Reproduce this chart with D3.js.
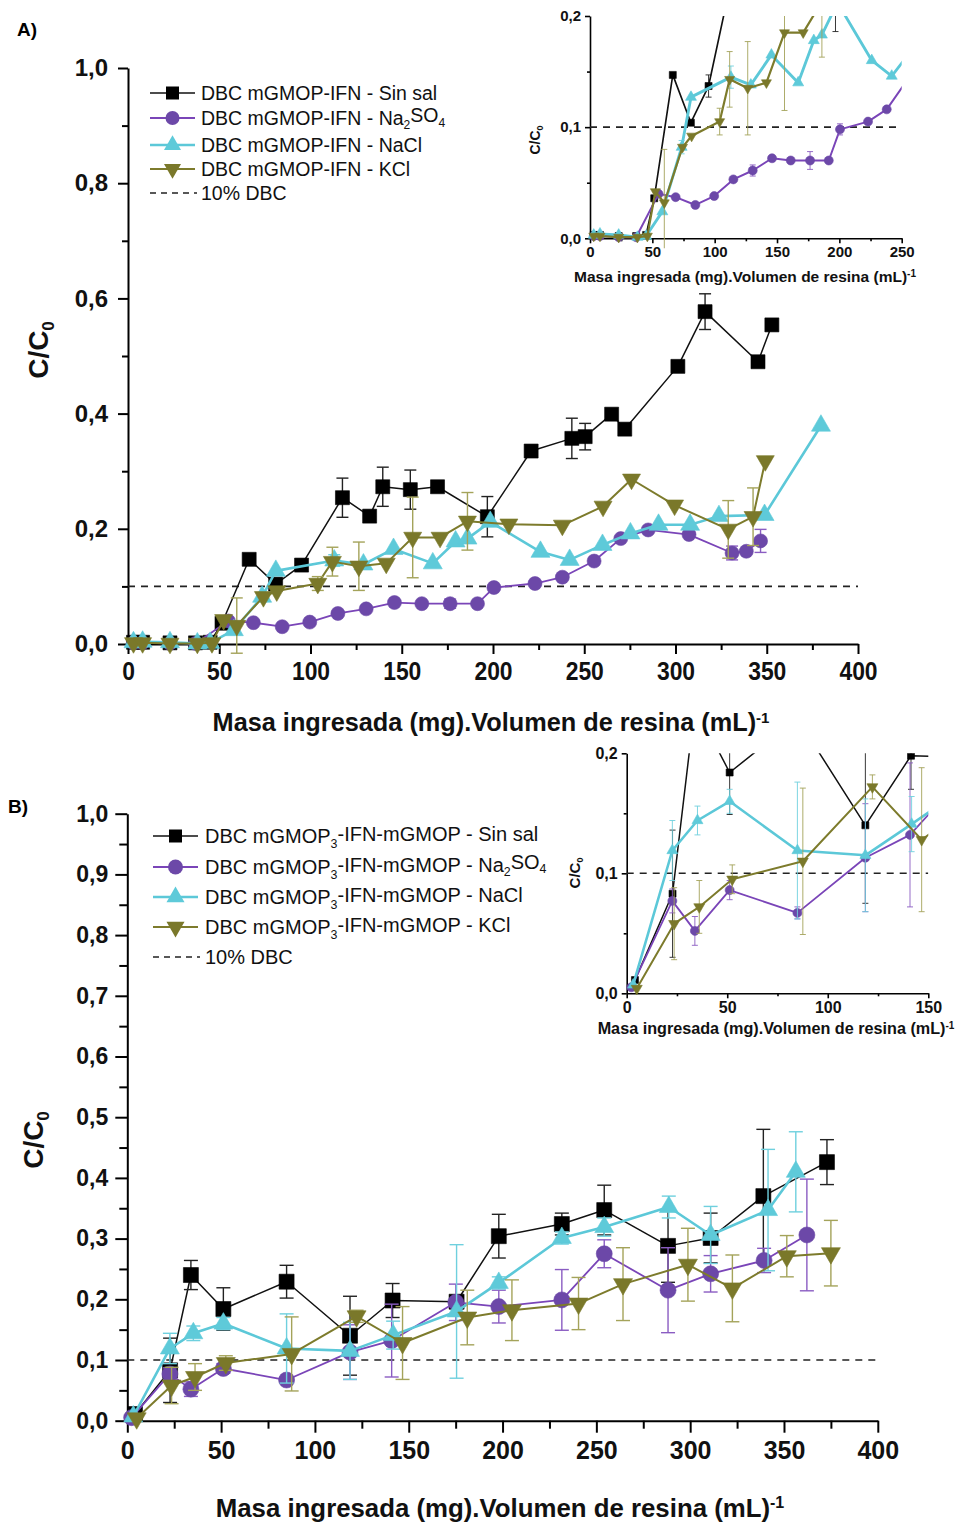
<!DOCTYPE html>
<html>
<head>
<meta charset="utf-8">
<script src="https://cdn.jsdelivr.net/npm/d3@7"></script>
<style>
  body { margin: 0; background: #fff; }
  svg { display: block; }
  text { font-family: "Liberation Sans", Arial, Helvetica, sans-serif; }
</style>
</head>
<body>
<svg id="fig" width="958" height="1524"></svg>
<script>
// ---------- Panel A: mGMOP-IFN  [mass loaded per resin volume, C/C0, error] ----------
const sinSalA = [[3,0.003,0],[8,0.003,0],[23,0.002,0],[37,0.002,0],[45,0.003,0],[51.5,0.036,0],[66.4,0.147,0],[80.9,0.104,0],[95.1,0.137,0.01],[117.5,0.254,0.034],[132.4,0.222,0],[139.6,0.273,0.034],[154.7,0.268,0.034],[169.6,0.273,0],[196.9,0.221,0.035],[220.9,0.335,0],[243.2,0.357,0.035],[250.5,0.36,0.023],[265,0.399,0],[272.2,0.373,0],[301.3,0.482,0],[316.2,0.577,0.031],[345.2,0.49,0],[352.8,0.554,0]];
const na2so4A = [[3,0.002,0],[8,0.002,0],[23,0.001,0],[37,0.001,0],[55,0.04,0],[68.7,0.037,0],[84.5,0.03,0],[99.6,0.038,0],[115,0.053,0],[130.5,0.061,0.005],[146,0.072,0],[161,0.07,0],[176.5,0.07,0.008],[191.5,0.07,0],[200.5,0.098,0.005],[223,0.105,0],[238,0.116,0],[255.4,0.144,0],[270,0.183,0],[285,0.198,0],[307.4,0.19,0],[331,0.158,0.012],[338.8,0.161,0],[346.6,0.179,0.02]];
const naclA = [[3,0.003,0],[8,0.004,0],[23,0.003,0],[38,0.001,0],[45,0.002,0],[58,0.024,0],[73.5,0.082,0.006],[81,0.127,0],[113,0.145,0.01],[129,0.138,0],[145.5,0.165,0],[167,0.14,0],[179.5,0.178,0],[186,0.183,0],[198.5,0.212,0],[226,0.16,0],[242,0.146,0],[260,0.172,0],[275.3,0.192,0],[290.7,0.207,0],[308,0.207,0],[323.8,0.222,0],[348.8,0.224,0],[379.7,0.379,0]];
const kclA = [[3,0.002,0],[8,0.002,0],[23,0.001,0],[38,0.001,0],[46,0.002,0],[52.4,0.042,0],[59.6,0.032,0.048],[74.2,0.082,0],[81.5,0.092,0],[104,0.105,0.012],[112,0.143,0.025],[126.5,0.135,0.042],[141.5,0.14,0],[156,0.185,0.07],[171,0.185,0],[186,0.213,0.05],[208.7,0.208,0],[238,0.206,0],[260.3,0.239,0],[275.9,0.286,0],[299.5,0.241,0],[328.9,0.199,0.05],[342.5,0.221,0.05],[349.2,0.318,0]];

// ---------- Panel B: mGMOP3-IFN-mGMOP ----------
const sinSalB = [[4.1,0.011,0],[22.8,0.083,0.053],[33.9,0.24,0.024],[51.2,0.184,0.035],[84.9,0.229,0.027],[118.7,0.14,0.065],[141.4,0.198,0.028],[175.5,0.196,0],[198,0.304,0.036],[231.6,0.324,0.018],[254.2,0.347,0.041],[288.2,0.288,0.06],[310.9,0.301,0.041],[339,0.37,0.11],[372.9,0.426,0.037]];
const na2so4B = [[2.3,0.005,0],[22.7,0.077,0.01],[33.9,0.052,0.012],[51.2,0.086,0.008],[84.9,0.067,0.005],[118.7,0.113,0.045],[140.9,0.132,0.06],[175.1,0.195,0.03],[198,0.188,0.027],[231.6,0.199,0.05],[254.2,0.275,0.023],[288.2,0.215,0.07],[310.9,0.242,0.03],[339.4,0.264,0.02],[362.2,0.306,0.092]];
const naclB = [[3.2,0.007,0],[22.7,0.119,0.025],[35.2,0.144,0.012],[51.2,0.16,0.01],[84.9,0.119,0.057],[118.7,0.115,0.047],[141.7,0.141,0.023],[175.5,0.18,0.11],[198,0.227,0.01],[231.6,0.301,0.01],[254.2,0.319,0.015],[288.6,0.352,0.018],[310.9,0.306,0.047],[341.5,0.347,0.1],[356.3,0.41,0.066]];
const kclB = [[5,0.004,0],[23.6,0.058,0.03],[36.1,0.072,0.022],[52.5,0.095,0.012],[87.6,0.11,0.061],[122.2,0.172,0.01],[146.7,0.128,0.06],[181.2,0.17,0.045],[205,0.182,0.05],[240.5,0.193,0.043],[264.2,0.225,0.06],[298.8,0.257,0.06],[322.5,0.218,0.055],[351.5,0.271,0.034],[375,0.276,0.054]];

// ---------- Axis ticks ----------
const xMajorMain = [0,50,100,150,200,250,300,350,400];
const xMinorMain = [25,75,125,175,225,275,325,375];
const yMajorA = [0,0.2,0.4,0.6,0.8,1.0];
const yMinorA = [0.1,0.3,0.5,0.7,0.9];
const yMajorB = [0,0.1,0.2,0.3,0.4,0.5,0.6,0.7,0.8,0.9,1.0];
const yMinorB = [0.05,0.15,0.25,0.35,0.45,0.55,0.65,0.75,0.85,0.95];
const xMajorInsetA = [0,50,100,150,200,250];
const xMinorInsetA = [25,75,125,175,225];
const xMajorInsetB = [0,50,100,150];
const xMinorInsetB = [25,75,125];
const yMajorInset = [0,0.1,0.2];
const yMinorInset = [0.05,0.15];
const dbcLevel = 0.1;

// ---------- Legend labels (text pieces; "sub" = subscript) ----------
const legendA = [
  [["DBC mGMOP-IFN - Sin sal"]],
  [["DBC mGMOP-IFN - Na"],["2","sub"],["SO"],["4","sub"]],
  [["DBC mGMOP-IFN - NaCl"]],
  [["DBC mGMOP-IFN - KCl"]],
  [["10% DBC"]]
];
const legendB = [
  [["DBC mGMOP"],["3","sub"],["-IFN-mGMOP - Sin sal"]],
  [["DBC mGMOP"],["3","sub"],["-IFN-mGMOP - Na"],["2","sub"],["SO"],["4","sub"]],
  [["DBC mGMOP"],["3","sub"],["-IFN-mGMOP - NaCl"]],
  [["DBC mGMOP"],["3","sub"],["-IFN-mGMOP - KCl"]],
  [["10% DBC"]]
];

const styles = [
  { shape: "square",  line: "#111111", fill: "#000000", err: "#222222", lw: 1.5 },
  { shape: "circle",  line: "#7a45b8", fill: "#6c48a8", err: "#8a5cc2", lw: 1.8 },
  { shape: "up",      line: "#5cc8d8", fill: "#5ecad9", err: "#6fd0de", lw: 2.6 },
  { shape: "down",    line: "#7d7b2c", fill: "#7a782a", err: "#a4a35a", lw: 2.0 }
];

const svg = d3.select("#fig");
const fmt = v => d3.format(".1f")(v).replace(".", ",");

function symbolPath(shape, s) {
  // s = nominal marker width in px
  if (shape === "square") return d3.symbol(d3.symbolSquare, s * s)();
  if (shape === "circle") return d3.symbol(d3.symbolCircle, Math.PI * (s / 2) * (s / 2))();
  const area = Math.sqrt(3) / 4 * s * s;
  return d3.symbol(d3.symbolTriangle, area)();
}

function addRich(textSel, parts, subSize) {
  let shifted = false;
  parts.forEach(p => {
    const t = textSel.append("tspan").text(p[0]);
    if (p[1] === "sub") {
      t.attr("font-size", subSize).attr("dy", shifted ? 0 : "0.35em");
      shifted = true;
    } else if (p[1] === "sup") {
      t.attr("font-size", subSize).attr("dy", "-0.55em");
      shifted = false;
    } else if (shifted) {
      t.attr("dy", "-0.35em");
      shifted = false;
    }
  });
}

function drawAxes(g, x, y, cfg) {
  const ax = g.append("g").attr("transform", `translate(0,${y.range()[0]})`)
    .call(d3.axisBottom(x).tickValues(cfg.xMajor).tickSize(cfg.tMaj).tickSizeOuter(0).tickPadding(cfg.xPad).tickFormat(d3.format("d")));
  g.append("g").attr("transform", `translate(0,${y.range()[0]})`)
    .call(d3.axisBottom(x).tickValues(cfg.xMinor).tickSize(cfg.tMin).tickSizeOuter(0).tickFormat(""))
    .select(".domain").remove();
  const ay = g.append("g").attr("transform", `translate(${x.range()[0]},0)`)
    .call(d3.axisLeft(y).tickValues(cfg.yMajor).tickSize(cfg.tMaj).tickSizeOuter(0).tickPadding(cfg.yPad).tickFormat(fmt));
  g.append("g").attr("transform", `translate(${x.range()[0]},0)`)
    .call(d3.axisLeft(y).tickValues(cfg.yMinor).tickSize(cfg.tMin).tickSizeOuter(0).tickFormat(""))
    .select(".domain").remove();
  g.selectAll(".domain").attr("stroke", "#000").attr("stroke-width", cfg.axW);
  g.selectAll(".tick line").attr("stroke", "#000").attr("stroke-width", cfg.axW);
  [[ax, cfg.xFont], [ay, cfg.yFont]].forEach(([a, f]) => a.selectAll("text")
    .attr("font-family", '"Liberation Sans", Arial, sans-serif')
    .attr("font-weight", "bold").attr("font-size", f).attr("fill", "#111"));
  if (cfg.xSqueeze) {
    ax.selectAll(".tick text").attr("transform", `scale(${cfg.xSqueeze},1)`);
  }
}

function drawSeries(g, x, y, sets, cfg) {
  sets.forEach((data, i) => {
    const st = styles[i];
    const line = d3.line().x(d => x(d[0])).y(d => y(d[1]));
    g.append("path").datum(data).attr("d", line)
      .attr("fill", "none").attr("stroke", st.line).attr("stroke-width", st.lw * cfg.lwScale)
      .attr("stroke-linejoin", "round");
    const eb = g.append("g").attr("stroke", st.err).attr("stroke-width", cfg.errW).attr("fill", "none");
    data.filter(d => d[2] > 0).forEach(d => {
      const cx = x(d[0]), y1 = y(d[1] + d[2]), y2 = y(d[1] - d[2]);
      eb.append("line").attr("x1", cx).attr("x2", cx).attr("y1", y1).attr("y2", y2);
      eb.append("line").attr("x1", cx - cfg.cap).attr("x2", cx + cfg.cap).attr("y1", y1).attr("y2", y1);
      eb.append("line").attr("x1", cx - cfg.cap).attr("x2", cx + cfg.cap).attr("y1", y2).attr("y2", y2);
    });
    const ms = cfg.marker[st.shape];
    g.append("g").selectAll("path").data(data).join("path")
      .attr("d", symbolPath(st.shape, ms))
      .attr("transform", d => `translate(${x(d[0])},${y(d[1])})${st.shape === "down" ? " rotate(180)" : ""}`)
      .attr("fill", st.fill).attr("stroke", st.fill).attr("stroke-width", 0.6);
  });
}

function drawDbc(g, x, y, x0, x1, w) {
  g.append("line").attr("x1", x(x0)).attr("x2", x(x1)).attr("y1", y(dbcLevel)).attr("y2", y(dbcLevel))
    .attr("stroke", "#222").attr("stroke-width", w).attr("stroke-dasharray", "7,6");
}

function drawLegend(g, labels, cfg) {
  labels.forEach((parts, i) => {
    const yy = cfg.rows[i];
    if (i < 4) {
      const st = styles[i];
      g.append("line").attr("x1", cfg.x0).attr("x2", cfg.x1).attr("y1", yy).attr("y2", yy)
        .attr("stroke", st.line).attr("stroke-width", st.lw);
      g.append("path").attr("d", symbolPath(st.shape, cfg.marker[st.shape]))
        .attr("transform", `translate(${(cfg.x0 + cfg.x1) / 2},${yy})${st.shape === "down" ? " rotate(180)" : ""}`)
        .attr("fill", st.fill);
    } else {
      g.append("line").attr("x1", cfg.x0).attr("x2", cfg.x1 + 2).attr("y1", yy).attr("y2", yy)
        .attr("stroke", "#222").attr("stroke-width", 1.5).attr("stroke-dasharray", "6,5");
    }
    const t = g.append("text").attr("x", cfg.tx).attr("y", yy).attr("dy", "0.36em")
      .attr("font-size", cfg.font).attr("fill", "#111");
    addRich(t, parts, cfg.font * 0.62);
  });
}

function axisTitle(g, cx, cy, size, rotate, parts, subSize) {
  const t = g.append("text").attr("text-anchor", "middle").attr("font-weight", "bold")
    .attr("font-size", size).attr("fill", "#111")
    .attr("transform", `translate(${cx},${cy})${rotate ? " rotate(-90)" : ""}`);
  addRich(t, parts, subSize);
  return t;
}

const xTitleParts = [["Masa ingresada (mg).Volumen de resina (mL)"],["-1","sup"]];
const yTitleParts = [["C/C"],["0","sub"]];

// ================= Panel A =================
{
  const g = svg.append("g");
  const x = d3.scaleLinear().domain([0, 400]).range([128, 858]);
  const y = d3.scaleLinear().domain([0, 1]).range([644, 68]);
  drawAxes(g, x, y, { xMajor: xMajorMain, xMinor: xMinorMain, yMajor: yMajorA, yMinor: yMinorA,
    tMaj: 10, tMin: 6, xPad: 8, yPad: 10, axW: 2, xFont: 26, yFont: 24, xSqueeze: 0.88 });
  drawDbc(g, x, y, 0, 400, 1.6);
  drawSeries(g, x, y, [sinSalA, na2so4A, naclA, kclA],
    { lwScale: 1, errW: 1.4, cap: 6, marker: { square: 14, circle: 14, up: 19, down: 18 } });
  drawLegend(g, legendA, { x0: 150, x1: 195, tx: 201, rows: [93, 118, 145, 169, 193], font: 19.5,
    marker: { square: 13, circle: 14, up: 17, down: 17 } });
  axisTitle(g, 491, 731, 25.3, false, xTitleParts, 15);
  axisTitle(g, 48, 350, 28, true, yTitleParts, 17);
  g.append("text").attr("x", 17).attr("y", 36).attr("font-weight", "bold").attr("font-size", 19).text("A)");

  // Inset: early breakthrough region
  const ix = d3.scaleLinear().domain([0, 250]).range([590, 901.7]);
  const iy = d3.scaleLinear().domain([0, 0.2]).range([238.3, 16]);
  const ig = svg.append("g");
  svg.append("clipPath").attr("id", "clipA").append("rect")
    .attr("x", 578).attr("y", 16).attr("width", 901.7 - 578).attr("height", 238.3 - 16 + 10);
  drawAxes(ig, ix, iy, { xMajor: xMajorInsetA, xMinor: xMinorInsetA, yMajor: yMajorInset, yMinor: yMinorInset,
    tMaj: 5, tMin: 3, xPad: 3, yPad: 4, axW: 1.6, xFont: 15, yFont: 15 });
  const ic = ig.append("g").attr("clip-path", "url(#clipA)");
  drawDbc(ic, ix, iy, 0, 248, 1.6);
  drawSeries(ic, ix, iy, [sinSalA, na2so4A, naclA, kclA],
    { lwScale: 1.1, errW: 0.9, cap: 3, marker: { square: 7, circle: 9, up: 11, down: 10 } });
  axisTitle(ig, 745, 282, 15.5, false, xTitleParts, 10);
  axisTitle(ig, 540, 140, 14, true, yTitleParts, 9);
}

// ================= Panel B =================
{
  const g = svg.append("g");
  const x = d3.scaleLinear().domain([0, 400]).range([127.3, 877.8]);
  const y = d3.scaleLinear().domain([0, 1]).range([1420.7, 813.7]);
  drawAxes(g, x, y, { xMajor: xMajorMain, xMinor: xMinorMain, yMajor: yMajorB, yMinor: yMinorB,
    tMaj: 12, tMin: 8, xPad: 9, yPad: 7, axW: 2, xFont: 25, yFont: 23 });
  drawDbc(g, x, y, 0, 400, 1.6);
  drawSeries(g, x, y, [sinSalB, na2so4B, naclB, kclB],
    { lwScale: 1, errW: 1.4, cap: 7, marker: { square: 15, circle: 16, up: 19, down: 19 } });
  drawLegend(g, legendB, { x0: 153, x1: 198, tx: 205, rows: [836, 867, 897, 927, 957], font: 20,
    marker: { square: 13, circle: 15, up: 18, down: 18 } });
  axisTitle(g, 500, 1517, 25.8, false, xTitleParts, 16);
  axisTitle(g, 43, 1140, 28, true, yTitleParts, 17);
  g.append("text").attr("x", 8).attr("y", 813).attr("font-weight", "bold").attr("font-size", 19).text("B)");

  // Inset: first 150 units
  const ix = d3.scaleLinear().domain([0, 150]).range([626.7, 928.3]);
  const iy = d3.scaleLinear().domain([0, 0.2]).range([993.3, 753.3]);
  const ig = svg.append("g");
  svg.append("clipPath").attr("id", "clipB").append("rect")
    .attr("x", 615).attr("y", 753.3).attr("width", 928.3 - 615).attr("height", 993.3 - 753.3 + 10);
  drawAxes(ig, ix, iy, { xMajor: xMajorInsetB, xMinor: xMinorInsetB, yMajor: yMajorInset, yMinor: yMinorInset,
    tMaj: 5, tMin: 3, xPad: 3, yPad: 4, axW: 1.6, xFont: 16, yFont: 16 });
  const ic = ig.append("g").attr("clip-path", "url(#clipB)");
  drawDbc(ic, ix, iy, 0, 150, 1.6);
  drawSeries(ic, ix, iy, [sinSalB, na2so4B, naclB, kclB],
    { lwScale: 1, errW: 0.9, cap: 3, marker: { square: 7, circle: 9, up: 11, down: 11 } });
  axisTitle(ig, 776, 1034, 16.2, false, xTitleParts, 10);
  axisTitle(ig, 580, 873, 15, true, yTitleParts, 9);
}
</script>
</body>
</html>
